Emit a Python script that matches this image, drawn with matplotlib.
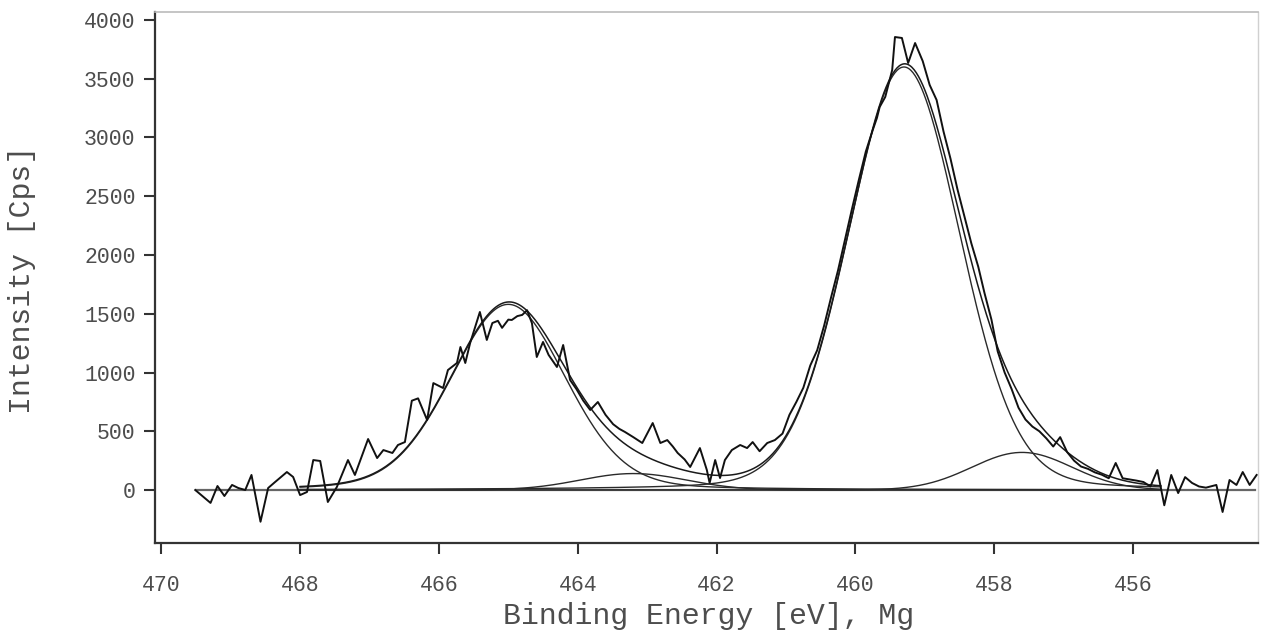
import numpy as np
import matplotlib
matplotlib.use("Agg")
import matplotlib.pyplot as plt

# ---- raw spectrum (binding energy [eV], counts [Cps]) ----
energy = [469.51, 469.29, 469.19, 469.09, 468.98, 468.89, 468.79, 468.70, 468.57, 468.46,
          468.36, 468.19, 468.10, 468.00, 467.90, 467.81, 467.71, 467.60, 467.47, 467.31,
          467.21, 467.02, 466.89, 466.80, 466.67, 466.59, 466.49, 466.39, 466.30, 466.17,
          466.08, 465.94, 465.87, 465.74, 465.69, 465.62, 465.55, 465.41, 465.31, 465.23,
          465.15, 465.09, 465.00, 464.95, 464.87, 464.80, 464.73, 464.66, 464.59, 464.50,
          464.42, 464.30, 464.21, 464.11, 464.02, 463.92, 463.82, 463.71, 463.60, 463.49,
          463.40, 463.32, 463.20, 463.07, 462.92, 462.81, 462.71, 462.63, 462.56, 462.46,
          462.38, 462.24, 462.14, 462.10, 462.02, 461.95, 461.88, 461.78, 461.66, 461.56,
          461.48, 461.38, 461.27, 461.16, 461.05, 460.95, 460.85, 460.75, 460.65, 460.55,
          460.45, 460.35, 460.25, 460.15, 460.05, 459.95, 459.85, 459.75, 459.69, 459.65,
          459.57, 459.47, 459.43, 459.33, 459.24, 459.14, 459.03, 458.93, 458.83, 458.73,
          458.63, 458.53, 458.43, 458.33, 458.23, 458.14, 458.04, 457.95, 457.85, 457.75,
          457.65, 457.55, 457.45, 457.35, 457.25, 457.15, 457.05, 456.95, 456.85, 456.75,
          456.65, 456.55, 456.45, 456.35, 456.25, 456.15, 456.05, 455.95, 455.85, 455.75,
          455.65, 455.55, 455.45, 455.35, 455.25, 455.15, 455.05, 454.95, 454.80, 454.71,
          454.61, 454.51, 454.42, 454.32, 454.22]
counts = [0, -110, 34, -51, 43, 17, 0, 128, -270, 17,
          68, 153, 111, -43, -17, 255, 247, -102, 26, 255,
          128, 434, 272, 340, 315, 383, 408, 760, 780, 596,
          910, 868, 1021, 1081, 1217, 1081, 1251, 1515, 1277, 1421,
          1440, 1380, 1450, 1447, 1480, 1490, 1530, 1420, 1132, 1260,
          1150, 1047, 1234, 936, 860, 760, 681, 749, 640, 560,
          520, 494, 450, 400, 570, 400, 425, 370, 315, 260,
          196, 357, 170, 60, 255, 102, 255, 340, 383, 357,
          408, 330, 400, 425, 480, 640, 750, 870, 1060, 1190,
          1400, 1640, 1870, 2130, 2390, 2640, 2880, 3064, 3166, 3260,
          3345, 3574, 3855, 3847, 3634, 3804, 3650, 3447, 3319, 3050,
          2820, 2560, 2330, 2100, 1900, 1676, 1450, 1180, 1000, 860,
          700, 600, 540, 500, 440, 370, 450, 323, 250, 200,
          180, 150, 130, 100, 230, 100, 90, 80, 68, 30,
          170, -130, 128, -26, 110, 60, 30, 20, 43, -187,
          85, 43, 153, 43, 128]

# ---- fitted components ----
peak_centers = [459.3, 465.0, 457.6, 463.2]   # eV
peak_heights = [3600, 1580, 320, 140]         # Cps
peak_fwhm = [1.9, 1.95, 1.7, 1.8]             # eV
peak_lorentz = [0.12, 0.15, 0.0, 0.0]         # Lorentzian fraction
fit_range = [468.0, 455.6]
baseline_range = [469.5, 454.25]
baseline_level = 0

x_ticks = [470, 468, 466, 464, 462, 460, 458, 456]
y_ticks = [0, 500, 1000, 1500, 2000, 2500, 3000, 3500, 4000]


def line_shape(e, c, h, w, m):
    u = (e - c) / w
    return h * ((1 - m) * np.exp(-4 * np.log(2) * u ** 2) + m / (1 + 4 * u ** 2))


W, H = 1263, 631
fig = plt.figure(figsize=(W / 100, H / 100), dpi=100)
ax = fig.add_axes([155 / W, 1 - 543 / H, (1258 - 155) / W, (543 - 12) / H])

mono = ['Liberation Mono', 'DejaVu Sans Mono']
txt_col = '#4d4d4d'

# baseline
ax.plot(baseline_range, [baseline_level, baseline_level], color='#666666', lw=1.6, zorder=2)

# fitted curves
e_fit = np.linspace(fit_range[0], fit_range[1], 800)
comps = [line_shape(e_fit, c, h, w, m) for c, h, w, m in
         zip(peak_centers, peak_heights, peak_fwhm, peak_lorentz)]
for comp in comps:
    ax.plot(e_fit, comp + baseline_level, color='#2a2a2a', lw=1.0, zorder=3)
ax.plot(e_fit, np.sum(comps, axis=0) + baseline_level, color='#1a1a1a', lw=1.1, zorder=3)

# raw data
ax.plot(energy, counts, color='#111111', lw=1.4, zorder=4)

ax.set_xlim(470.09, 454.2)
ax.set_ylim(-451, 4068)

ax.set_xticks(x_ticks)
ax.set_xticklabels([str(t) for t in x_ticks], family=mono, fontsize=15.5, color=txt_col)
ax.set_yticks(y_ticks)
ax.set_yticklabels([str(t) for t in y_ticks], family=mono, fontsize=15.5, color=txt_col)
ax.tick_params(axis='x', direction='out', length=8, width=1.5, color='#333333', pad=15)
ax.tick_params(axis='y', direction='out', length=8, width=1.5, color='#333333', pad=6)

for side in ['left', 'bottom']:
    ax.spines[side].set_color('#333333')
    ax.spines[side].set_linewidth(1.6)
ax.spines['top'].set_color('#bbbbbb')
ax.spines['top'].set_linewidth(1.2)
ax.spines['right'].set_color('#d0d0d0')
ax.spines['right'].set_linewidth(1.0)

fig.text(709 / W, 1 - 616 / H, 'Binding Energy [eV], Mg', family=mono, fontsize=21.5,
         color=txt_col, ha='center', va='center')
fig.text(22 / W, 1 - 280 / H, 'Intensity [Cps]', family=mono, fontsize=21.5,
         color=txt_col, ha='center', va='center', rotation=90)

fig.savefig('out.png', dpi=100, facecolor='white')
